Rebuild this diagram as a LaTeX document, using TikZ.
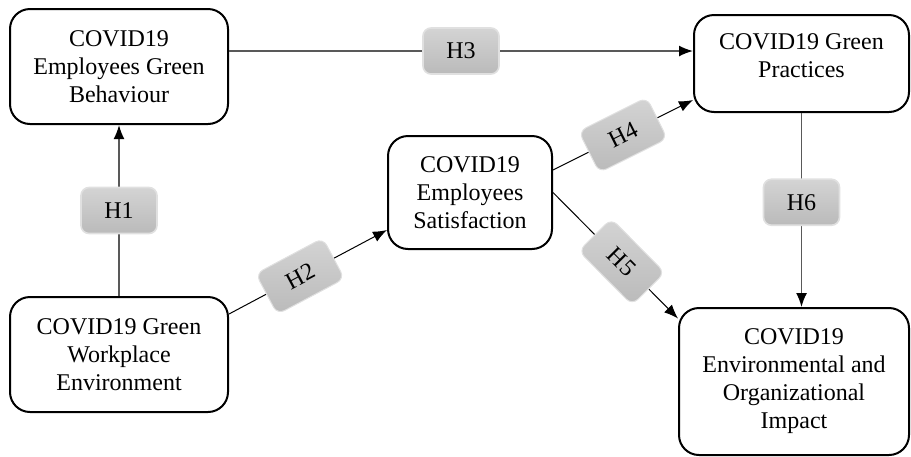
\documentclass[tikz,border=0pt]{standalone}
\usepackage{fontspec}
\setmainfont{Liberation Serif}
\usetikzlibrary{arrows.meta,positioning,calc}

\begin{document}
\begin{tikzpicture}[x=0.5pt,y=-0.5pt,
  box/.style={draw, line width=1pt, rounded corners=10pt, align=center, inner sep=0pt, font=\rmfamily\fontsize{12}{14}\selectfont},
  hyp/.style={rounded corners=4pt, top color=black!17, bottom color=black!27, draw=black!12, text=black, minimum width=38pt, minimum height=23pt, inner sep=0pt, font=\rmfamily\fontsize{12}{14}\selectfont},
  gline/.style={black!65, line width=0.8pt},
  bline/.style={black, line width=0.5pt},
  tip/.style={-{Latex[length=7pt,width=5.5pt,color=black]}}]
\useasboundingbox (0,0) rectangle (911,456);
% Boxes
\node[box, minimum width=109pt, minimum height=57.5pt] (behav) at (119,66.5) {COVID19\\Employees Green\\Behaviour};
\node[box, minimum width=109pt, minimum height=57.5pt] (work) at (119,354.5) {COVID19 Green\\Workplace\\Environment};
\node[box, minimum width=82pt, minimum height=56.5pt] (satis) at (470,192.5) {COVID19\\Employees\\Satisfaction};
\node[box, minimum width=107.5pt, minimum height=48.5pt, text depth=7.5pt] (pract) at (801.5,63.5) {COVID19 Green\\Practices};
\node[box, minimum width=115pt, minimum height=73.5pt] (impact) at (794,381.5) {COVID19\\Environmental and\\Organizational\\Impact};
% Hypotheses
\draw[gline, tip] (work) -- node[hyp]{H1} (behav);
\draw[gline, tip] ([yshift=7.75pt]behav.east) -- node[hyp]{H3} ([yshift=7.75pt]behav.east -| pract.west);
\draw[bline, tip] ([yshift=20.25pt]work.east) -- node[hyp, sloped, pos=0.45]{H2} ([yshift=-18.75pt]satis.west);
\draw[bline, tip] ([yshift=11.25pt]satis.east) -- node[hyp, sloped]{H4} ([yshift=-18.25pt]pract.west);
\draw[bline, tip] (satis.east) -- node[hyp, sloped, pos=0.55]{H5} ([yshift=31.5pt]impact.west);
\draw[gline, tip] (pract.south) -- node[hyp, pos=0.46]{H6} (pract.south |- impact.north);
\end{tikzpicture}
\end{document}
